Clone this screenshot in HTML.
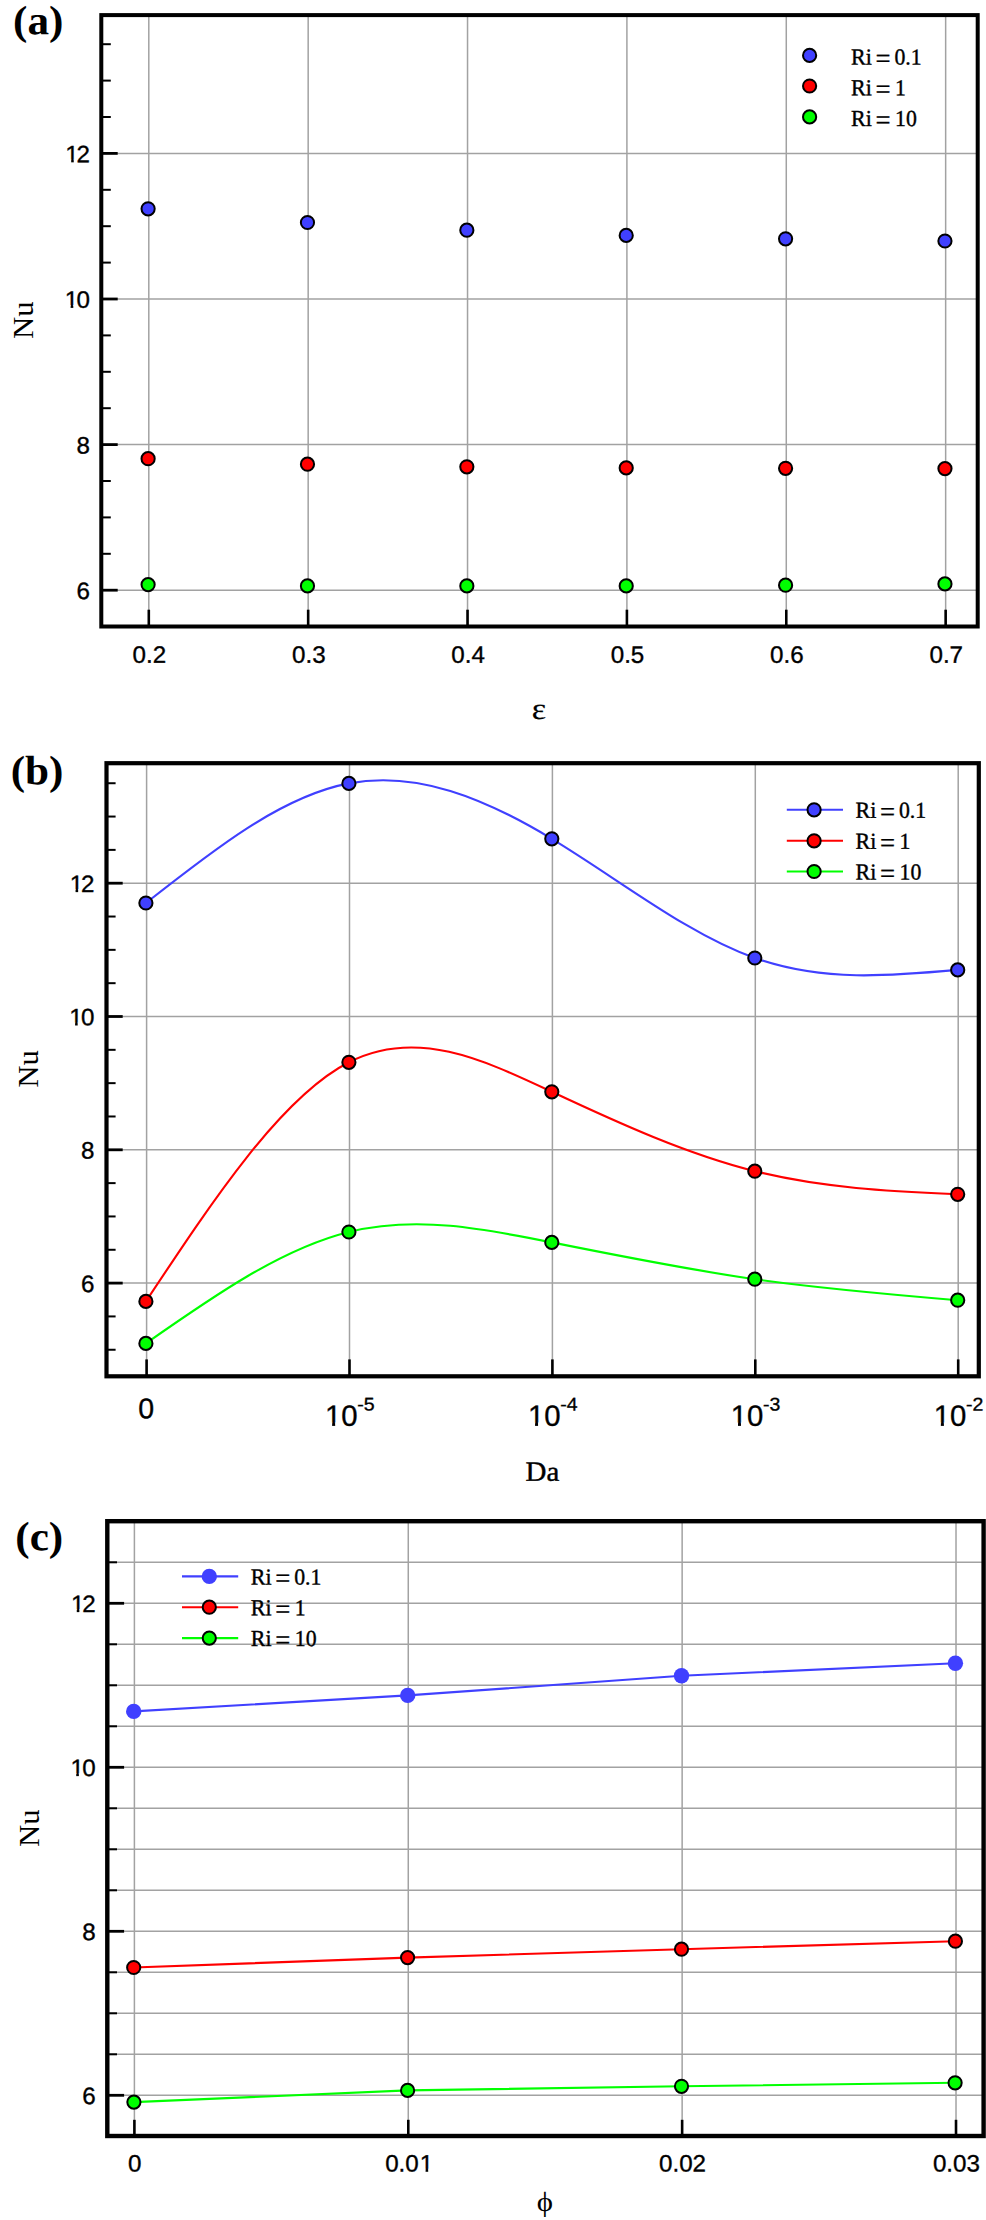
<!DOCTYPE html>
<html lang="en"><head><meta charset="utf-8"><title>Nu charts</title>
<style>html,body{margin:0;padding:0;background:#fff}svg text{fill:#000}</style></head>
<body>
<svg width="986" height="2220" viewBox="0 0 986 2220" style="display:block;font-kerning:none">
<rect width="986" height="2220" fill="#fff"/>
<defs><clipPath id="c1_23_7"><rect x="-2" y="-21.33" width="18.59" height="18.56"/><rect x="5.76" y="-2.87" width="2.49" height="3.27"/></clipPath><clipPath id="c1_29_3"><rect x="-2" y="-26.37" width="22.51" height="23.18"/><rect x="7.17" y="-3.29" width="2.99" height="3.69"/></clipPath></defs>
<line x1="148.8" y1="15.1" x2="148.8" y2="626.5" stroke="#a2a2a2" stroke-width="1.5"/>
<line x1="308.17" y1="15.1" x2="308.17" y2="626.5" stroke="#a2a2a2" stroke-width="1.5"/>
<line x1="467.54" y1="15.1" x2="467.54" y2="626.5" stroke="#a2a2a2" stroke-width="1.5"/>
<line x1="626.91" y1="15.1" x2="626.91" y2="626.5" stroke="#a2a2a2" stroke-width="1.5"/>
<line x1="786.28" y1="15.1" x2="786.28" y2="626.5" stroke="#a2a2a2" stroke-width="1.5"/>
<line x1="945.65" y1="15.1" x2="945.65" y2="626.5" stroke="#a2a2a2" stroke-width="1.5"/>
<line x1="101.3" y1="153.4" x2="977.7" y2="153.4" stroke="#a2a2a2" stroke-width="1.5"/>
<line x1="101.3" y1="299" x2="977.7" y2="299" stroke="#a2a2a2" stroke-width="1.5"/>
<line x1="101.3" y1="444.6" x2="977.7" y2="444.6" stroke="#a2a2a2" stroke-width="1.5"/>
<line x1="101.3" y1="590.2" x2="977.7" y2="590.2" stroke="#a2a2a2" stroke-width="1.5"/>
<circle cx="148.1" cy="208.8" r="6.6" fill="#4040ff" stroke="#000" stroke-width="2"/>
<circle cx="307.47" cy="222.5" r="6.6" fill="#4040ff" stroke="#000" stroke-width="2"/>
<circle cx="466.84" cy="230.2" r="6.6" fill="#4040ff" stroke="#000" stroke-width="2"/>
<circle cx="626.21" cy="235.4" r="6.6" fill="#4040ff" stroke="#000" stroke-width="2"/>
<circle cx="785.58" cy="238.8" r="6.6" fill="#4040ff" stroke="#000" stroke-width="2"/>
<circle cx="944.95" cy="241" r="6.6" fill="#4040ff" stroke="#000" stroke-width="2"/>
<circle cx="148.1" cy="458.7" r="6.6" fill="#ff0000" stroke="#000" stroke-width="2"/>
<circle cx="307.47" cy="464.2" r="6.6" fill="#ff0000" stroke="#000" stroke-width="2"/>
<circle cx="466.84" cy="466.8" r="6.6" fill="#ff0000" stroke="#000" stroke-width="2"/>
<circle cx="626.21" cy="467.9" r="6.6" fill="#ff0000" stroke="#000" stroke-width="2"/>
<circle cx="785.58" cy="468.3" r="6.6" fill="#ff0000" stroke="#000" stroke-width="2"/>
<circle cx="944.95" cy="468.6" r="6.6" fill="#ff0000" stroke="#000" stroke-width="2"/>
<circle cx="148.1" cy="584.6" r="6.6" fill="#00ff00" stroke="#000" stroke-width="2"/>
<circle cx="307.47" cy="585.9" r="6.6" fill="#00ff00" stroke="#000" stroke-width="2"/>
<circle cx="466.84" cy="585.9" r="6.6" fill="#00ff00" stroke="#000" stroke-width="2"/>
<circle cx="626.21" cy="585.9" r="6.6" fill="#00ff00" stroke="#000" stroke-width="2"/>
<circle cx="785.58" cy="585.2" r="6.6" fill="#00ff00" stroke="#000" stroke-width="2"/>
<circle cx="944.95" cy="583.9" r="6.6" fill="#00ff00" stroke="#000" stroke-width="2"/>
<line x1="101.3" y1="553.8" x2="110.8" y2="553.8" stroke="#000" stroke-width="2"/>
<line x1="101.3" y1="517.4" x2="110.8" y2="517.4" stroke="#000" stroke-width="2"/>
<line x1="101.3" y1="481" x2="110.8" y2="481" stroke="#000" stroke-width="2"/>
<line x1="101.3" y1="408.2" x2="110.8" y2="408.2" stroke="#000" stroke-width="2"/>
<line x1="101.3" y1="371.8" x2="110.8" y2="371.8" stroke="#000" stroke-width="2"/>
<line x1="101.3" y1="335.4" x2="110.8" y2="335.4" stroke="#000" stroke-width="2"/>
<line x1="101.3" y1="262.6" x2="110.8" y2="262.6" stroke="#000" stroke-width="2"/>
<line x1="101.3" y1="226.2" x2="110.8" y2="226.2" stroke="#000" stroke-width="2"/>
<line x1="101.3" y1="189.8" x2="110.8" y2="189.8" stroke="#000" stroke-width="2"/>
<line x1="101.3" y1="117" x2="110.8" y2="117" stroke="#000" stroke-width="2"/>
<line x1="101.3" y1="80.6" x2="110.8" y2="80.6" stroke="#000" stroke-width="2"/>
<line x1="101.3" y1="44.2" x2="110.8" y2="44.2" stroke="#000" stroke-width="2"/>
<line x1="101.3" y1="153.4" x2="117.7" y2="153.4" stroke="#000" stroke-width="2.8"/>
<line x1="101.3" y1="299" x2="117.7" y2="299" stroke="#000" stroke-width="2.8"/>
<line x1="101.3" y1="444.6" x2="117.7" y2="444.6" stroke="#000" stroke-width="2.8"/>
<line x1="101.3" y1="590.2" x2="117.7" y2="590.2" stroke="#000" stroke-width="2.8"/>
<line x1="148.8" y1="626.5" x2="148.8" y2="609.7" stroke="#000" stroke-width="2.6"/>
<line x1="308.17" y1="626.5" x2="308.17" y2="609.7" stroke="#000" stroke-width="2.6"/>
<line x1="467.54" y1="626.5" x2="467.54" y2="609.7" stroke="#000" stroke-width="2.6"/>
<line x1="626.91" y1="626.5" x2="626.91" y2="609.7" stroke="#000" stroke-width="2.6"/>
<line x1="786.28" y1="626.5" x2="786.28" y2="609.7" stroke="#000" stroke-width="2.6"/>
<line x1="945.65" y1="626.5" x2="945.65" y2="609.7" stroke="#000" stroke-width="2.6"/>
<rect x="101.3" y="15.1" width="876.4" height="611.4" fill="none" stroke="#000" stroke-width="4"/>
<text transform="translate(65.32,162.2) rotate(0.03) scale(1.02,1)" font-family="Liberation Sans, sans-serif" font-size="23.7" stroke="#000" stroke-width="0.35" clip-path="url(#c1_23_7)">1</text>
<text transform="translate(90,162.2) rotate(0.03) scale(1.02,1)" font-family="Liberation Sans, sans-serif" font-size="23.7" text-anchor="end" stroke="#000" stroke-width="0.35">2</text>
<text transform="translate(64.82,307.8) rotate(0.03) scale(1.02,1)" font-family="Liberation Sans, sans-serif" font-size="23.7" stroke="#000" stroke-width="0.35" clip-path="url(#c1_23_7)">1</text>
<text transform="translate(90,307.8) rotate(0.03) scale(1.02,1)" font-family="Liberation Sans, sans-serif" font-size="23.7" text-anchor="end" stroke="#000" stroke-width="0.35">0</text>
<text transform="translate(90,453.4) rotate(0.03) scale(1.02,1)" font-family="Liberation Sans, sans-serif" font-size="23.7" text-anchor="end" stroke="#000" stroke-width="0.35">8</text>
<text transform="translate(90,599) rotate(0.03) scale(1.02,1)" font-family="Liberation Sans, sans-serif" font-size="23.7" text-anchor="end" stroke="#000" stroke-width="0.35">6</text>
<text transform="translate(149.4,662.7) rotate(0.03) scale(1.02,1)" font-family="Liberation Sans, sans-serif" font-size="23.7" text-anchor="middle" stroke="#000" stroke-width="0.35">0.2</text>
<text transform="translate(308.77,662.7) rotate(0.03) scale(1.02,1)" font-family="Liberation Sans, sans-serif" font-size="23.7" text-anchor="middle" stroke="#000" stroke-width="0.35">0.3</text>
<text transform="translate(468.14,662.7) rotate(0.03) scale(1.02,1)" font-family="Liberation Sans, sans-serif" font-size="23.7" text-anchor="middle" stroke="#000" stroke-width="0.35">0.4</text>
<text transform="translate(627.51,662.7) rotate(0.03) scale(1.02,1)" font-family="Liberation Sans, sans-serif" font-size="23.7" text-anchor="middle" stroke="#000" stroke-width="0.35">0.5</text>
<text transform="translate(786.88,662.7) rotate(0.03) scale(1.02,1)" font-family="Liberation Sans, sans-serif" font-size="23.7" text-anchor="middle" stroke="#000" stroke-width="0.35">0.6</text>
<text transform="translate(946.25,662.7) rotate(0.03) scale(1.02,1)" font-family="Liberation Sans, sans-serif" font-size="23.7" text-anchor="middle" stroke="#000" stroke-width="0.35">0.7</text>
<circle cx="809.6" cy="55.4" r="6.6" fill="#4040ff" stroke="#000" stroke-width="2"/>
<text transform="translate(851.1,64.6) rotate(0.03) scale(0.96,1)" font-family="Liberation Serif, serif" font-size="22.9" stroke="#000" stroke-width="0.4">Ri</text>
<text transform="translate(875.5,67.8) rotate(0.03) scale(1.166,1.24)" font-family="Liberation Serif, serif" font-size="22.9" stroke="#000" stroke-width="0.25">=</text>
<text transform="translate(894.5,64.6) rotate(0.03) scale(0.95,1)" font-family="Liberation Serif, serif" font-size="22.9" stroke="#000" stroke-width="0.4">0.1</text>
<circle cx="809.6" cy="86" r="6.6" fill="#ff0000" stroke="#000" stroke-width="2"/>
<text transform="translate(851.1,95.2) rotate(0.03) scale(0.96,1)" font-family="Liberation Serif, serif" font-size="22.9" stroke="#000" stroke-width="0.4">Ri</text>
<text transform="translate(875.5,98.4) rotate(0.03) scale(1.166,1.24)" font-family="Liberation Serif, serif" font-size="22.9" stroke="#000" stroke-width="0.25">=</text>
<text transform="translate(895.1,95.2) rotate(0.03) scale(0.95,1)" font-family="Liberation Serif, serif" font-size="22.9" stroke="#000" stroke-width="0.4">1</text>
<circle cx="809.6" cy="116.9" r="6.6" fill="#00ff00" stroke="#000" stroke-width="2"/>
<text transform="translate(851.1,126.1) rotate(0.03) scale(0.96,1)" font-family="Liberation Serif, serif" font-size="22.9" stroke="#000" stroke-width="0.4">Ri</text>
<text transform="translate(875.5,129.3) rotate(0.03) scale(1.166,1.24)" font-family="Liberation Serif, serif" font-size="22.9" stroke="#000" stroke-width="0.25">=</text>
<text transform="translate(895.1,126.1) rotate(0.03) scale(0.95,1)" font-family="Liberation Serif, serif" font-size="22.9" stroke="#000" stroke-width="0.4">10</text>
<text transform="translate(33,338.9) rotate(-90) scale(1.06,1)" font-family="Liberation Serif, serif" font-size="29">Nu</text>
<text transform="translate(531.77,719) rotate(0.03) scale(1.12,1)" font-family="Liberation Serif, serif" font-size="30.5" stroke="#000" stroke-width="0.2">ε</text>
<text transform="translate(13.1,34.25) rotate(0.03) scale(1.05,1)" font-family="Liberation Serif, serif" font-size="41.1" font-weight="bold">(a)</text>
<line x1="146.6" y1="763.2" x2="146.6" y2="1376.3" stroke="#a2a2a2" stroke-width="1.5"/>
<line x1="349.5" y1="763.2" x2="349.5" y2="1376.3" stroke="#a2a2a2" stroke-width="1.5"/>
<line x1="552.4" y1="763.2" x2="552.4" y2="1376.3" stroke="#a2a2a2" stroke-width="1.5"/>
<line x1="755.3" y1="763.2" x2="755.3" y2="1376.3" stroke="#a2a2a2" stroke-width="1.5"/>
<line x1="958.2" y1="763.2" x2="958.2" y2="1376.3" stroke="#a2a2a2" stroke-width="1.5"/>
<line x1="106.5" y1="883.2" x2="978.8" y2="883.2" stroke="#a2a2a2" stroke-width="1.5"/>
<line x1="106.5" y1="1016.5" x2="978.8" y2="1016.5" stroke="#a2a2a2" stroke-width="1.5"/>
<line x1="106.5" y1="1149.8" x2="978.8" y2="1149.8" stroke="#a2a2a2" stroke-width="1.5"/>
<line x1="106.5" y1="1283.1" x2="978.8" y2="1283.1" stroke="#a2a2a2" stroke-width="1.5"/>
<path d="M145.9 903 C213.57 849.66 281.23 796.32 348.9 783.4 C416.53 770.49 484.17 797.95 551.8 838.8 C619.47 879.67 687.13 933.92 754.8 958 C822.43 982.07 890.07 975.98 957.7 969.9" fill="none" stroke="#4040ff" stroke-width="2.1"/>
<path d="M145.9 1301.4 C213.57 1199.23 281.23 1097.07 348.9 1062.3 C416.53 1027.55 484.17 1060.13 551.8 1091.8 C619.47 1123.49 687.13 1154.27 754.8 1171.2 C822.43 1188.12 890.07 1191.21 957.7 1194.3" fill="none" stroke="#ff0000" stroke-width="2.1"/>
<path d="M145.9 1343.4 C213.57 1296.11 281.23 1248.82 348.9 1232 C416.53 1215.19 484.17 1228.81 551.8 1242.4 C619.47 1256 687.13 1269.57 754.8 1279.2 C822.43 1288.82 890.07 1294.51 957.7 1300.2" fill="none" stroke="#00ff00" stroke-width="2.1"/>
<circle cx="145.9" cy="903" r="6.6" fill="#4040ff" stroke="#000" stroke-width="2"/>
<circle cx="348.9" cy="783.4" r="6.6" fill="#4040ff" stroke="#000" stroke-width="2"/>
<circle cx="551.8" cy="838.8" r="6.6" fill="#4040ff" stroke="#000" stroke-width="2"/>
<circle cx="754.8" cy="958" r="6.6" fill="#4040ff" stroke="#000" stroke-width="2"/>
<circle cx="957.7" cy="969.9" r="6.6" fill="#4040ff" stroke="#000" stroke-width="2"/>
<circle cx="145.9" cy="1301.4" r="6.6" fill="#ff0000" stroke="#000" stroke-width="2"/>
<circle cx="348.9" cy="1062.3" r="6.6" fill="#ff0000" stroke="#000" stroke-width="2"/>
<circle cx="551.8" cy="1091.8" r="6.6" fill="#ff0000" stroke="#000" stroke-width="2"/>
<circle cx="754.8" cy="1171.2" r="6.6" fill="#ff0000" stroke="#000" stroke-width="2"/>
<circle cx="957.7" cy="1194.3" r="6.6" fill="#ff0000" stroke="#000" stroke-width="2"/>
<circle cx="145.9" cy="1343.4" r="6.6" fill="#00ff00" stroke="#000" stroke-width="2"/>
<circle cx="348.9" cy="1232" r="6.6" fill="#00ff00" stroke="#000" stroke-width="2"/>
<circle cx="551.8" cy="1242.4" r="6.6" fill="#00ff00" stroke="#000" stroke-width="2"/>
<circle cx="754.8" cy="1279.2" r="6.6" fill="#00ff00" stroke="#000" stroke-width="2"/>
<circle cx="957.7" cy="1300.2" r="6.6" fill="#00ff00" stroke="#000" stroke-width="2"/>
<line x1="106.5" y1="1349.75" x2="115.6" y2="1349.75" stroke="#000" stroke-width="2"/>
<line x1="106.5" y1="1316.43" x2="115.6" y2="1316.43" stroke="#000" stroke-width="2"/>
<line x1="106.5" y1="1249.78" x2="115.6" y2="1249.78" stroke="#000" stroke-width="2"/>
<line x1="106.5" y1="1216.45" x2="115.6" y2="1216.45" stroke="#000" stroke-width="2"/>
<line x1="106.5" y1="1183.12" x2="115.6" y2="1183.12" stroke="#000" stroke-width="2"/>
<line x1="106.5" y1="1116.48" x2="115.6" y2="1116.48" stroke="#000" stroke-width="2"/>
<line x1="106.5" y1="1083.15" x2="115.6" y2="1083.15" stroke="#000" stroke-width="2"/>
<line x1="106.5" y1="1049.83" x2="115.6" y2="1049.83" stroke="#000" stroke-width="2"/>
<line x1="106.5" y1="983.18" x2="115.6" y2="983.18" stroke="#000" stroke-width="2"/>
<line x1="106.5" y1="949.85" x2="115.6" y2="949.85" stroke="#000" stroke-width="2"/>
<line x1="106.5" y1="916.53" x2="115.6" y2="916.53" stroke="#000" stroke-width="2"/>
<line x1="106.5" y1="849.88" x2="115.6" y2="849.88" stroke="#000" stroke-width="2"/>
<line x1="106.5" y1="816.55" x2="115.6" y2="816.55" stroke="#000" stroke-width="2"/>
<line x1="106.5" y1="783.23" x2="115.6" y2="783.23" stroke="#000" stroke-width="2"/>
<line x1="106.5" y1="883.2" x2="122.7" y2="883.2" stroke="#000" stroke-width="2.8"/>
<line x1="106.5" y1="1016.5" x2="122.7" y2="1016.5" stroke="#000" stroke-width="2.8"/>
<line x1="106.5" y1="1149.8" x2="122.7" y2="1149.8" stroke="#000" stroke-width="2.8"/>
<line x1="106.5" y1="1283.1" x2="122.7" y2="1283.1" stroke="#000" stroke-width="2.8"/>
<line x1="146.6" y1="1376.3" x2="146.6" y2="1359.4" stroke="#000" stroke-width="2.6"/>
<line x1="349.5" y1="1376.3" x2="349.5" y2="1359.4" stroke="#000" stroke-width="2.6"/>
<line x1="552.4" y1="1376.3" x2="552.4" y2="1359.4" stroke="#000" stroke-width="2.6"/>
<line x1="755.3" y1="1376.3" x2="755.3" y2="1359.4" stroke="#000" stroke-width="2.6"/>
<line x1="958.2" y1="1376.3" x2="958.2" y2="1359.4" stroke="#000" stroke-width="2.6"/>
<rect x="106.5" y="763.2" width="872.3" height="613.1" fill="none" stroke="#000" stroke-width="4.2"/>
<text transform="translate(69.72,892) rotate(0.03) scale(1.02,1)" font-family="Liberation Sans, sans-serif" font-size="23.7" stroke="#000" stroke-width="0.35" clip-path="url(#c1_23_7)">1</text>
<text transform="translate(94.4,892) rotate(0.03) scale(1.02,1)" font-family="Liberation Sans, sans-serif" font-size="23.7" text-anchor="end" stroke="#000" stroke-width="0.35">2</text>
<text transform="translate(69.22,1025.3) rotate(0.03) scale(1.02,1)" font-family="Liberation Sans, sans-serif" font-size="23.7" stroke="#000" stroke-width="0.35" clip-path="url(#c1_23_7)">1</text>
<text transform="translate(94.4,1025.3) rotate(0.03) scale(1.02,1)" font-family="Liberation Sans, sans-serif" font-size="23.7" text-anchor="end" stroke="#000" stroke-width="0.35">0</text>
<text transform="translate(94.4,1158.6) rotate(0.03) scale(1.02,1)" font-family="Liberation Sans, sans-serif" font-size="23.7" text-anchor="end" stroke="#000" stroke-width="0.35">8</text>
<text transform="translate(94.4,1291.9) rotate(0.03) scale(1.02,1)" font-family="Liberation Sans, sans-serif" font-size="23.7" text-anchor="end" stroke="#000" stroke-width="0.35">6</text>
<text transform="translate(146.1,1418.3) rotate(0.03)" font-family="Liberation Sans, sans-serif" font-size="28.5" text-anchor="middle" stroke="#000" stroke-width="0.35">0</text>
<text transform="translate(325,1425.8) rotate(0.03)" font-family="Liberation Sans, sans-serif" font-size="29.3" stroke="#000" stroke-width="0.35" clip-path="url(#c1_29_3)">1</text>
<text transform="translate(341.29,1425.8) rotate(0.03)" font-family="Liberation Sans, sans-serif" font-size="29.3" stroke="#000" stroke-width="0.35">0</text>
<text transform="translate(357.3,1410.5) rotate(0.03) scale(1.06,1)" font-family="Liberation Sans, sans-serif" font-size="18.4" stroke="#000" stroke-width="0.35">-5</text>
<text transform="translate(527.9,1425.8) rotate(0.03)" font-family="Liberation Sans, sans-serif" font-size="29.3" stroke="#000" stroke-width="0.35" clip-path="url(#c1_29_3)">1</text>
<text transform="translate(544.19,1425.8) rotate(0.03)" font-family="Liberation Sans, sans-serif" font-size="29.3" stroke="#000" stroke-width="0.35">0</text>
<text transform="translate(560.2,1410.5) rotate(0.03) scale(1.06,1)" font-family="Liberation Sans, sans-serif" font-size="18.4" stroke="#000" stroke-width="0.35">-4</text>
<text transform="translate(730.8,1425.8) rotate(0.03)" font-family="Liberation Sans, sans-serif" font-size="29.3" stroke="#000" stroke-width="0.35" clip-path="url(#c1_29_3)">1</text>
<text transform="translate(747.09,1425.8) rotate(0.03)" font-family="Liberation Sans, sans-serif" font-size="29.3" stroke="#000" stroke-width="0.35">0</text>
<text transform="translate(763.1,1410.5) rotate(0.03) scale(1.06,1)" font-family="Liberation Sans, sans-serif" font-size="18.4" stroke="#000" stroke-width="0.35">-3</text>
<text transform="translate(933.7,1425.8) rotate(0.03)" font-family="Liberation Sans, sans-serif" font-size="29.3" stroke="#000" stroke-width="0.35" clip-path="url(#c1_29_3)">1</text>
<text transform="translate(949.99,1425.8) rotate(0.03)" font-family="Liberation Sans, sans-serif" font-size="29.3" stroke="#000" stroke-width="0.35">0</text>
<text transform="translate(966,1410.5) rotate(0.03) scale(1.06,1)" font-family="Liberation Sans, sans-serif" font-size="18.4" stroke="#000" stroke-width="0.35">-2</text>
<line x1="786.8" y1="809.8" x2="843" y2="809.8" stroke="#4040ff" stroke-width="2.1"/>
<circle cx="814.1" cy="809.8" r="6.6" fill="#4040ff" stroke="#000" stroke-width="2"/>
<text transform="translate(855.6,817.8) rotate(0.03) scale(0.96,1)" font-family="Liberation Serif, serif" font-size="22.9" stroke="#000" stroke-width="0.4">Ri</text>
<text transform="translate(880,821) rotate(0.03) scale(1.166,1.24)" font-family="Liberation Serif, serif" font-size="22.9" stroke="#000" stroke-width="0.25">=</text>
<text transform="translate(899,817.8) rotate(0.03) scale(0.95,1)" font-family="Liberation Serif, serif" font-size="22.9" stroke="#000" stroke-width="0.4">0.1</text>
<line x1="786.8" y1="840.8" x2="843" y2="840.8" stroke="#ff0000" stroke-width="2.1"/>
<circle cx="814.1" cy="840.8" r="6.6" fill="#ff0000" stroke="#000" stroke-width="2"/>
<text transform="translate(855.6,848.8) rotate(0.03) scale(0.96,1)" font-family="Liberation Serif, serif" font-size="22.9" stroke="#000" stroke-width="0.4">Ri</text>
<text transform="translate(880,852) rotate(0.03) scale(1.166,1.24)" font-family="Liberation Serif, serif" font-size="22.9" stroke="#000" stroke-width="0.25">=</text>
<text transform="translate(899.6,848.8) rotate(0.03) scale(0.95,1)" font-family="Liberation Serif, serif" font-size="22.9" stroke="#000" stroke-width="0.4">1</text>
<line x1="786.8" y1="871.5" x2="843" y2="871.5" stroke="#00ff00" stroke-width="2.1"/>
<circle cx="814.1" cy="871.5" r="6.6" fill="#00ff00" stroke="#000" stroke-width="2"/>
<text transform="translate(855.6,879.5) rotate(0.03) scale(0.96,1)" font-family="Liberation Serif, serif" font-size="22.9" stroke="#000" stroke-width="0.4">Ri</text>
<text transform="translate(880,882.7) rotate(0.03) scale(1.166,1.24)" font-family="Liberation Serif, serif" font-size="22.9" stroke="#000" stroke-width="0.25">=</text>
<text transform="translate(899.6,879.5) rotate(0.03) scale(0.95,1)" font-family="Liberation Serif, serif" font-size="22.9" stroke="#000" stroke-width="0.4">10</text>
<text transform="translate(37.9,1087.7) rotate(-90) scale(1.06,1)" font-family="Liberation Serif, serif" font-size="29">Nu</text>
<text transform="translate(525.56,1480.8) rotate(0.03) scale(1.04,1)" font-family="Liberation Serif, serif" font-size="27.8" stroke="#000" stroke-width="0.4">Da</text>
<text transform="translate(10.7,784.35) rotate(0.03) scale(1.05,1)" font-family="Liberation Serif, serif" font-size="41.1" font-weight="bold">(b)</text>
<line x1="134.4" y1="1521.2" x2="134.4" y2="2136" stroke="#a2a2a2" stroke-width="1.5"/>
<line x1="408.27" y1="1521.2" x2="408.27" y2="2136" stroke="#a2a2a2" stroke-width="1.5"/>
<line x1="682.14" y1="1521.2" x2="682.14" y2="2136" stroke="#a2a2a2" stroke-width="1.5"/>
<line x1="956.01" y1="1521.2" x2="956.01" y2="2136" stroke="#a2a2a2" stroke-width="1.5"/>
<line x1="107.3" y1="2095.3" x2="983.6" y2="2095.3" stroke="#a2a2a2" stroke-width="1.5"/>
<line x1="107.3" y1="2054.3" x2="983.6" y2="2054.3" stroke="#a2a2a2" stroke-width="1.5"/>
<line x1="107.3" y1="2013.3" x2="983.6" y2="2013.3" stroke="#a2a2a2" stroke-width="1.5"/>
<line x1="107.3" y1="1972.3" x2="983.6" y2="1972.3" stroke="#a2a2a2" stroke-width="1.5"/>
<line x1="107.3" y1="1931.3" x2="983.6" y2="1931.3" stroke="#a2a2a2" stroke-width="1.5"/>
<line x1="107.3" y1="1890.3" x2="983.6" y2="1890.3" stroke="#a2a2a2" stroke-width="1.5"/>
<line x1="107.3" y1="1849.3" x2="983.6" y2="1849.3" stroke="#a2a2a2" stroke-width="1.5"/>
<line x1="107.3" y1="1808.3" x2="983.6" y2="1808.3" stroke="#a2a2a2" stroke-width="1.5"/>
<line x1="107.3" y1="1767.3" x2="983.6" y2="1767.3" stroke="#a2a2a2" stroke-width="1.5"/>
<line x1="107.3" y1="1726.3" x2="983.6" y2="1726.3" stroke="#a2a2a2" stroke-width="1.5"/>
<line x1="107.3" y1="1685.3" x2="983.6" y2="1685.3" stroke="#a2a2a2" stroke-width="1.5"/>
<line x1="107.3" y1="1644.3" x2="983.6" y2="1644.3" stroke="#a2a2a2" stroke-width="1.5"/>
<line x1="107.3" y1="1603.3" x2="983.6" y2="1603.3" stroke="#a2a2a2" stroke-width="1.5"/>
<line x1="107.3" y1="1562.3" x2="983.6" y2="1562.3" stroke="#a2a2a2" stroke-width="1.5"/>
<path d="M133.7 1711.4 L407.7 1695.4 L681.5 1675.8 L955.4 1663.3" fill="none" stroke="#4040ff" stroke-width="2.1"/>
<path d="M133.7 1967.5 L407.6 1957.6 L681.5 1949.2 L955.4 1941.2" fill="none" stroke="#ff0000" stroke-width="2.1"/>
<path d="M133.9 2102.1 L407.6 2090.4 L681.5 2086.3 L955.1 2082.8" fill="none" stroke="#00ff00" stroke-width="2.1"/>
<circle cx="133.7" cy="1711.4" r="7.7" fill="#4040ff"/>
<circle cx="407.7" cy="1695.4" r="7.7" fill="#4040ff"/>
<circle cx="681.5" cy="1675.8" r="7.7" fill="#4040ff"/>
<circle cx="955.4" cy="1663.3" r="7.7" fill="#4040ff"/>
<circle cx="133.7" cy="1967.5" r="6.6" fill="#ff0000" stroke="#000" stroke-width="2"/>
<circle cx="407.6" cy="1957.6" r="6.6" fill="#ff0000" stroke="#000" stroke-width="2"/>
<circle cx="681.5" cy="1949.2" r="6.6" fill="#ff0000" stroke="#000" stroke-width="2"/>
<circle cx="955.4" cy="1941.2" r="6.6" fill="#ff0000" stroke="#000" stroke-width="2"/>
<circle cx="133.9" cy="2102.1" r="6.6" fill="#00ff00" stroke="#000" stroke-width="2"/>
<circle cx="407.6" cy="2090.4" r="6.6" fill="#00ff00" stroke="#000" stroke-width="2"/>
<circle cx="681.5" cy="2086.3" r="6.6" fill="#00ff00" stroke="#000" stroke-width="2"/>
<circle cx="955.1" cy="2082.8" r="6.6" fill="#00ff00" stroke="#000" stroke-width="2"/>
<line x1="182" y1="1576.4" x2="238.2" y2="1576.4" stroke="#4040ff" stroke-width="2.1"/>
<circle cx="209.3" cy="1576.4" r="7.7" fill="#4040ff"/>
<text transform="translate(250.8,1584.4) rotate(0.03) scale(0.96,1)" font-family="Liberation Serif, serif" font-size="22.9" stroke="#000" stroke-width="0.4">Ri</text>
<text transform="translate(275.2,1587.6) rotate(0.03) scale(1.166,1.24)" font-family="Liberation Serif, serif" font-size="22.9" stroke="#000" stroke-width="0.25">=</text>
<text transform="translate(294.2,1584.4) rotate(0.03) scale(0.95,1)" font-family="Liberation Serif, serif" font-size="22.9" stroke="#000" stroke-width="0.4">0.1</text>
<line x1="182" y1="1607.2" x2="238.2" y2="1607.2" stroke="#ff0000" stroke-width="2.1"/>
<circle cx="209.3" cy="1607.2" r="6.6" fill="#ff0000" stroke="#000" stroke-width="2"/>
<text transform="translate(250.8,1615.2) rotate(0.03) scale(0.96,1)" font-family="Liberation Serif, serif" font-size="22.9" stroke="#000" stroke-width="0.4">Ri</text>
<text transform="translate(275.2,1618.4) rotate(0.03) scale(1.166,1.24)" font-family="Liberation Serif, serif" font-size="22.9" stroke="#000" stroke-width="0.25">=</text>
<text transform="translate(294.8,1615.2) rotate(0.03) scale(0.95,1)" font-family="Liberation Serif, serif" font-size="22.9" stroke="#000" stroke-width="0.4">1</text>
<line x1="182" y1="1638.1" x2="238.2" y2="1638.1" stroke="#00ff00" stroke-width="2.1"/>
<circle cx="209.3" cy="1638.1" r="6.6" fill="#00ff00" stroke="#000" stroke-width="2"/>
<text transform="translate(250.8,1646.1) rotate(0.03) scale(0.96,1)" font-family="Liberation Serif, serif" font-size="22.9" stroke="#000" stroke-width="0.4">Ri</text>
<text transform="translate(275.2,1649.3) rotate(0.03) scale(1.166,1.24)" font-family="Liberation Serif, serif" font-size="22.9" stroke="#000" stroke-width="0.25">=</text>
<text transform="translate(294.8,1646.1) rotate(0.03) scale(0.95,1)" font-family="Liberation Serif, serif" font-size="22.9" stroke="#000" stroke-width="0.4">10</text>
<line x1="107.3" y1="2054.3" x2="117" y2="2054.3" stroke="#000" stroke-width="2"/>
<line x1="107.3" y1="2013.3" x2="117" y2="2013.3" stroke="#000" stroke-width="2"/>
<line x1="107.3" y1="1972.3" x2="117" y2="1972.3" stroke="#000" stroke-width="2"/>
<line x1="107.3" y1="1890.3" x2="117" y2="1890.3" stroke="#000" stroke-width="2"/>
<line x1="107.3" y1="1849.3" x2="117" y2="1849.3" stroke="#000" stroke-width="2"/>
<line x1="107.3" y1="1808.3" x2="117" y2="1808.3" stroke="#000" stroke-width="2"/>
<line x1="107.3" y1="1726.3" x2="117" y2="1726.3" stroke="#000" stroke-width="2"/>
<line x1="107.3" y1="1685.3" x2="117" y2="1685.3" stroke="#000" stroke-width="2"/>
<line x1="107.3" y1="1644.3" x2="117" y2="1644.3" stroke="#000" stroke-width="2"/>
<line x1="107.3" y1="1562.3" x2="117" y2="1562.3" stroke="#000" stroke-width="2"/>
<line x1="107.3" y1="1603.3" x2="124.1" y2="1603.3" stroke="#000" stroke-width="2.8"/>
<line x1="107.3" y1="1767.3" x2="124.1" y2="1767.3" stroke="#000" stroke-width="2.8"/>
<line x1="107.3" y1="1931.3" x2="124.1" y2="1931.3" stroke="#000" stroke-width="2.8"/>
<line x1="107.3" y1="2095.3" x2="124.1" y2="2095.3" stroke="#000" stroke-width="2.8"/>
<line x1="134.4" y1="2136" x2="134.4" y2="2119.8" stroke="#000" stroke-width="2.6"/>
<line x1="408.27" y1="2136" x2="408.27" y2="2119.8" stroke="#000" stroke-width="2.6"/>
<line x1="682.14" y1="2136" x2="682.14" y2="2119.8" stroke="#000" stroke-width="2.6"/>
<line x1="956.01" y1="2136" x2="956.01" y2="2119.8" stroke="#000" stroke-width="2.6"/>
<rect x="107.3" y="1521.2" width="876.3" height="614.8" fill="none" stroke="#000" stroke-width="4.4"/>
<text transform="translate(70.92,1612.1) rotate(0.03) scale(1.02,1)" font-family="Liberation Sans, sans-serif" font-size="23.7" stroke="#000" stroke-width="0.35" clip-path="url(#c1_23_7)">1</text>
<text transform="translate(95.6,1612.1) rotate(0.03) scale(1.02,1)" font-family="Liberation Sans, sans-serif" font-size="23.7" text-anchor="end" stroke="#000" stroke-width="0.35">2</text>
<text transform="translate(70.42,1776.1) rotate(0.03) scale(1.02,1)" font-family="Liberation Sans, sans-serif" font-size="23.7" stroke="#000" stroke-width="0.35" clip-path="url(#c1_23_7)">1</text>
<text transform="translate(95.6,1776.1) rotate(0.03) scale(1.02,1)" font-family="Liberation Sans, sans-serif" font-size="23.7" text-anchor="end" stroke="#000" stroke-width="0.35">0</text>
<text transform="translate(95.6,1940.1) rotate(0.03) scale(1.02,1)" font-family="Liberation Sans, sans-serif" font-size="23.7" text-anchor="end" stroke="#000" stroke-width="0.35">8</text>
<text transform="translate(95.6,2104.1) rotate(0.03) scale(1.02,1)" font-family="Liberation Sans, sans-serif" font-size="23.7" text-anchor="end" stroke="#000" stroke-width="0.35">6</text>
<text transform="translate(134.8,2171.6) rotate(0.03) scale(1.02,1)" font-family="Liberation Sans, sans-serif" font-size="23.7" text-anchor="middle" stroke="#000" stroke-width="0.35">0</text>
<text transform="translate(385.15,2171.6) rotate(0.03) scale(1.02,1)" font-family="Liberation Sans, sans-serif" font-size="23.7" stroke="#000" stroke-width="0.35">0.0</text>
<text transform="translate(419.75,2171.6) rotate(0.03) scale(1.02,1)" font-family="Liberation Sans, sans-serif" font-size="23.7" stroke="#000" stroke-width="0.35" clip-path="url(#c1_23_7)">1</text>
<text transform="translate(682.54,2171.6) rotate(0.03) scale(1.02,1)" font-family="Liberation Sans, sans-serif" font-size="23.7" text-anchor="middle" stroke="#000" stroke-width="0.35">0.02</text>
<text transform="translate(956.41,2171.6) rotate(0.03) scale(1.02,1)" font-family="Liberation Sans, sans-serif" font-size="23.7" text-anchor="middle" stroke="#000" stroke-width="0.35">0.03</text>
<text transform="translate(39,1846.9) rotate(-90) scale(1.06,1)" font-family="Liberation Serif, serif" font-size="29">Nu</text>
<text transform="translate(536.75,2211.08) rotate(0.03) scale(1.11,1)" font-family="Liberation Serif, serif" font-size="27.8">ϕ</text>
<text transform="translate(15.3,1550.25) rotate(0.03) scale(1.05,1)" font-family="Liberation Serif, serif" font-size="41.1" font-weight="bold">(c)</text>
</svg>
</body></html>
